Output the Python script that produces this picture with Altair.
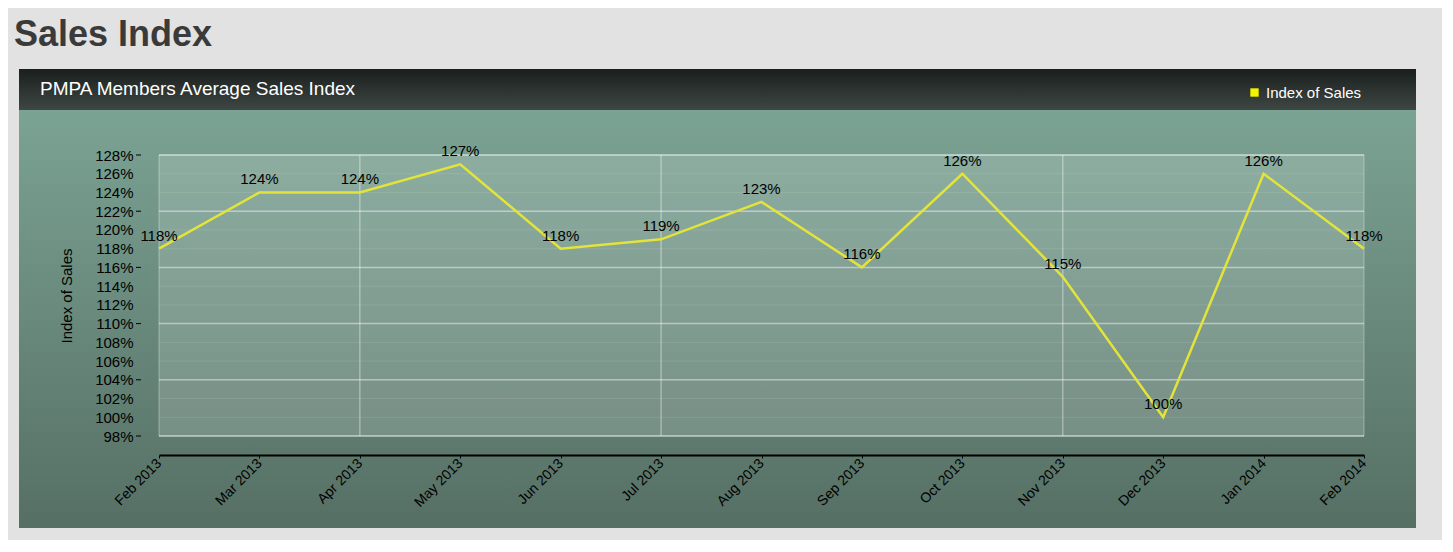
import altair as alt
import pandas as pd

# values
months = ["Feb 2013", "Mar 2013", "Apr 2013", "May 2013", "Jun 2013", "Jul 2013",
          "Aug 2013", "Sep 2013", "Oct 2013", "Nov 2013", "Dec 2013", "Jan 2014", "Feb 2014"]
sales_index = [118, 124, 124, 127, 118, 119, 123, 116, 126, 115, 100, 126, 118]
y_ticks = list(range(98, 130, 2))
y_major = list(range(98, 130, 6))
v_grid_months = ["Apr 2013", "Jul 2013", "Nov 2013"]

page_title = "Sales Index"
panel_title = "PMPA Members Average Sales Index"
series_name = "Index of Sales"

FONT = "Liberation Sans"
W, H = 1205, 281

df = pd.DataFrame({"month": months, "index": sales_index, "series": series_name})
df["label"] = df["index"].astype(str) + "%"

x_enc = alt.X("month:N", scale=alt.Scale(type="point", domain=months, padding=0),
              axis=alt.Axis(title=None, labelAngle=-45, labelAlign="right", labelBaseline="middle",
                            labelFont=FONT, labelFontSize=14, labelColor="black", labelPadding=3,
                            domainColor="black", domainWidth=2, tickColor="black", tickSize=3,
                            offset=19, grid=False, zindex=1, labelOverlap=False))
y_enc = alt.Y("index:Q", scale=alt.Scale(domain=[98, 128], nice=False, zero=False),
              axis=alt.Axis(title="Index of Sales", values=y_ticks, labelExpr="datum.value + '%'",
                            labelFont=FONT, labelFontSize=15, labelColor="black", labelPadding=8,
                            ticks=False, domain=False, grid=False, offset=18, zindex=1,
                            titleFont=FONT, titleFontSize=15, titleFontWeight="normal",
                            titleColor="black", titlePadding=20, labelOverlap=False))

one = pd.DataFrame({"k": [0]})

# panel backgrounds (decoration)
body = alt.Chart(one).mark_rect(
    color=alt.Gradient(gradient="linear", x1=0, x2=0, y1=0, y2=1,
                       stops=[alt.GradientStop(color="#7ba394", offset=0),
                              alt.GradientStop(color="#566f64", offset=1)])
).encode(x=alt.value(-140), x2=alt.value(1257), y=alt.value(-45), y2=alt.value(373))

header = alt.Chart(one).mark_rect(
    color=alt.Gradient(gradient="linear", x1=0, x2=0, y1=0, y2=1,
                       stops=[alt.GradientStop(color="#1a1f1d", offset=0),
                              alt.GradientStop(color="#3e4743", offset=1)])
).encode(x=alt.value(-140), x2=alt.value(1257), y=alt.value(-86), y2=alt.value(-45))

plot_bg = alt.Chart(one).mark_rect(fill="white", fillOpacity=0.16, stroke="white",
                                   strokeOpacity=0.35, strokeWidth=1).encode(
    x=alt.value(0), x2=alt.value(W), y=alt.value(0), y2=alt.value(H))

page_t = alt.Chart(pd.DataFrame({"t": [page_title]})).mark_text(
    align="left", baseline="middle", font=FONT, fontSize=36, fontWeight="bold",
    color="#3a3a3a").encode(text="t:N", x=alt.value(-145), y=alt.value(-120))

panel_t = alt.Chart(pd.DataFrame({"t": [panel_title]})).mark_text(
    align="left", baseline="middle", font=FONT, fontSize=19, color="white").encode(
    text="t:N", x=alt.value(-119), y=alt.value(-66))

# horizontal grid
grid_df = pd.DataFrame({"index": y_ticks})
grid_df["major"] = grid_df["index"].isin(y_major)
hgrid = alt.Chart(grid_df).mark_rule(color="white").encode(
    y=y_enc,
    strokeOpacity=alt.condition(alt.datum.major, alt.value(0.45), alt.value(0.1)),
    strokeWidth=alt.condition(alt.datum.major, alt.value(1.5), alt.value(1)),
)

# tick marks only at the major values
yticks = alt.Chart(pd.DataFrame({"index": y_major})).mark_rule(
    color="black", strokeWidth=1).encode(y=y_enc, x=alt.value(-23), x2=alt.value(-18))

vgrid = alt.Chart(pd.DataFrame({"month": v_grid_months})).mark_rule(
    color="white", strokeOpacity=0.35, strokeWidth=1.5).encode(
    x=x_enc, y=alt.value(0), y2=alt.value(H))

line = alt.Chart(df).mark_line(strokeWidth=2.5).encode(
    x=x_enc,
    y=y_enc,
    color=alt.Color("series:N", scale=alt.Scale(domain=[series_name], range=["#e2e43a"]),
                    legend=alt.Legend(title=None, orient="none", legendX=1088, legendY=-70,
                                      symbolType="square", symbolFillColor="#f4f400",
                                      symbolStrokeWidth=0, symbolSize=70,
                                      labelColor="white", labelFont=FONT, labelFontSize=15)),
)

labels = alt.Chart(df).mark_text(dy=-13, baseline="middle", font=FONT, fontSize=15,
                                 color="black").encode(x=x_enc, y=y_enc, text="label:N")

chart = alt.layer(body, header, plot_bg, page_t, panel_t, hgrid, yticks, vgrid, line,
                  labels).properties(
    width=W, height=H,
    autosize=alt.AutoSizeParams(type="none"),
    padding={"left": 151, "top": 147, "right": 78, "bottom": 104},
    background="#e2e2e2",
).configure_view(stroke=None)

chart.save("out.html", embed_options={"renderer": "svg", "actions": False})
